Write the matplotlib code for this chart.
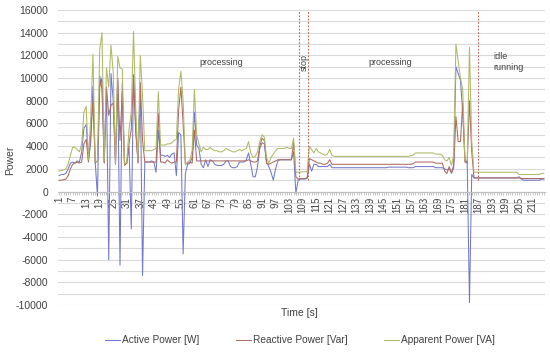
import matplotlib.pyplot as plt
from matplotlib.ticker import MultipleLocator

active_power = [
    1400, 1500, 1500, 1600, 2000, 2500, 2600, 2500, 2700, 2600,
    3500, 5600, 5900, 2700, 4300, 9300, 2600, -400, 10200, 9000,
    2600, 9000, -6000, 10400, 8000, 2500, 9800, -6500, 9600, 2400,
    2500, 4000, -3300, 10000, 5200, 2600, 9500, -7400, 2600, 2600,
    2600, 2700, 2600, 1700, 5400, 3200, 3200, 3100, 3200, 3000,
    3300, 3400, 1400, 5200, 5000, -5500, 1600, 2400, 2500, 3000,
    7000, 4100, 3800, 2400, 2100, 2800, 2200, 2800, 2700, 2400,
    2300, 2300, 2300, 2400, 2700, 2700, 2200, 2100, 2100, 2200,
    2600, 2600, 2600, 2800, 3400, 2400, 1300, 1300, 2200, 3800,
    4300, 4200, 2600, 2200, 1700, 1000, 2000, 2700, 2800, 2800,
    2800, 2800, 2800, 2800, 3500, -150, 1000, 1100, 1100, 1100,
    1150, 2400, 1800, 2400, 2400, 2200, 2200, 2200, 2200, 2200,
    2400, 2100, 2100, 2100, 2100, 2100, 2100, 2100, 2100, 2100,
    2100, 2100, 2100, 2100, 2100, 2100, 2100, 2100, 2100, 2100,
    2100, 2100, 2100, 2100, 2100, 2100, 2150, 2150, 2150, 2150,
    2150, 2150, 2150, 2150, 2150, 2100, 2100, 2100, 2200, 2200,
    2200, 2200, 2200, 2200, 2200, 2200, 2200, 2100, 2100, 2100,
    2100, 2000, 1900, 2000, 1700, 2300, 11000, 10400, 9800, 7000,
    2700, 2600, -9800, 1500, 1200, 1200, 1200, 1200, 1200, 1200,
    1200, 1200, 1200, 1200, 1200, 1200, 1200, 1200, 1200, 1200,
    1200, 1200, 1200, 1200, 1300, 1100, 1000, 1000, 1000, 1000,
    1000, 1000, 1000, 1000, 1100, 1100,
]
reactive_power = [
    1000, 1000, 1050, 1100, 1400, 2000, 2400, 2500, 2600, 2500,
    2600, 4200, 4600, 2600, 5000, 8000, 2500, 2700, 9200, 10000,
    2500, 9200, 6700, 7600, 7800, 2400, 10000, 4500, 8800, 2300,
    2500, 4200, 5500, 10300, 5400, 2500, 9600, 4500, 2600, 2600,
    2600, 2600, 2600, 2600, 6900, 2600, 2600, 2500, 2800, 2600,
    2500, 2600, 2600, 7200, 9200, 6000, 2400, 2500, 2600, 2500,
    5400, 2700, 2700, 2700, 2700, 2700, 2700, 2700, 2700, 2700,
    2700, 2700, 2700, 2700, 2700, 2700, 2700, 2700, 2700, 2700,
    2700, 2700, 2700, 2700, 2800, 2700, 2600, 2600, 2700, 4000,
    4700, 4500, 2500, 2400, 2500, 2600, 2700, 2800, 2800, 2800,
    2800, 2800, 2800, 2800, 4300, 1300, 1100, 1150, 1150, 1150,
    1200, 2900, 2800, 2700, 2600, 2500, 2500, 2400, 2400, 2500,
    2800, 2400, 2400, 2400, 2400, 2400, 2400, 2400, 2400, 2400,
    2400, 2400, 2400, 2400, 2400, 2400, 2400, 2400, 2400, 2400,
    2400, 2400, 2400, 2400, 2400, 2400, 2400, 2400, 2400, 2400,
    2400, 2400, 2400, 2400, 2400, 2400, 2400, 2450, 2600, 2600,
    2600, 2600, 2600, 2600, 2600, 2600, 2600, 2500, 2500, 2500,
    2500, 1800, 1600, 2200, 1600, 2100, 6600, 4400, 4400, 7800,
    2600, 2500, 8000, 3500, 1200, 1200, 1200, 1200, 1200, 1200,
    1200, 1200, 1200, 1200, 1200, 1200, 1200, 1200, 1200, 1200,
    1200, 1200, 1200, 1200, 1200, 1150, 1150, 1150, 1150, 1150,
    1150, 1150, 1150, 1150, 1150, 1150,
]
apparent_power = [
    1800, 1850, 1900, 2000, 2400, 3200, 3900, 3900, 3700, 3500,
    4200, 7000, 7500, 2800, 6500, 12100, 2600, 2700, 12500, 14000,
    2700, 10900, 9200, 12900, 10500, 2500, 11900, 10900, 10800, 2400,
    2600, 5500, 7000, 14100, 7200, 2700, 12000, 8500, 3600, 3600,
    3600, 3600, 3700, 3800, 8800, 4100, 4100, 4100, 4200, 4200,
    4300, 4500, 4600, 9000, 10600, 8000, 2400, 2600, 2800, 3600,
    9000, 5000, 4200, 3500, 3900, 3700, 3700, 3900, 3700, 3600,
    3600, 3500, 3500, 3600, 3800, 3700, 3600, 3500, 3500, 3600,
    3700, 3600, 3700, 3800, 4400, 3400, 3000, 3100, 3500, 4400,
    5000, 4800, 3000, 2500, 3000, 3300, 3600, 3800, 3800, 3800,
    3800, 3900, 3800, 3800, 4700, 1700, 1700, 1700, 1750, 1750,
    1750, 4000, 3700, 3400, 3800, 3500, 3400, 3300, 3200, 3300,
    3700, 3200, 3100, 3100, 3100, 3100, 3100, 3100, 3100, 3100,
    3100, 3100, 3100, 3100, 3100, 3100, 3100, 3100, 3100, 3100,
    3100, 3100, 3100, 3100, 3100, 3100, 3100, 3100, 3100, 3100,
    3100, 3100, 3100, 3100, 3100, 3100, 3150, 3200, 3400, 3400,
    3400, 3400, 3400, 3400, 3400, 3400, 3400, 3300, 3300, 3300,
    3200, 2800, 2700, 3000, 2300, 3200, 13000, 11500, 10000, 9000,
    2800, 2700, 12700, 4500, 1700, 1700, 1700, 1700, 1700, 1700,
    1700, 1700, 1700, 1700, 1700, 1700, 1700, 1700, 1700, 1700,
    1700, 1700, 1700, 1700, 1500, 1500, 1500, 1500, 1500, 1500,
    1500, 1500, 1500, 1500, 1600, 1600,
]
time_s = list(range(1, len(active_power) + 1))
phase_bounds = [107.5, 111.3, 186.8]

plt.rcParams['font.family'] = ['Liberation Sans', 'DejaVu Sans']
plt.rcParams['axes.unicode_minus'] = False
txt = '#404040'

fig = plt.figure(figsize=(5.5, 3.55), dpi=100)
ax = fig.add_axes([58 / 550, 1 - 305 / 355, 487 / 550, 295 / 355])

ax.plot(time_s, active_power, color='#7478CC', lw=0.75, label='Active Power [W]')
ax.plot(time_s, reactive_power, color='#AC6A62', lw=0.75, label='Reactive Power [Var]')
ax.plot(time_s, apparent_power, color='#B0B866', lw=0.75, label='Apparent Power [VA]')

for xb in phase_bounds:
    ax.plot([xb, xb], [1000, 16000], color='#B8645A', lw=0.8, ls=(0, (1.5, 1.5)))

# axis crosses at zero like the original spreadsheet chart
for side in ['top', 'right', 'left']:
    ax.spines[side].set_visible(False)
ax.spines['bottom'].set_position(('data', 0))
ax.spines['bottom'].set_color('#BFBFBF')
ax.spines['bottom'].set_linewidth(0.8)

ax.set_xlim(0.5, len(time_s) + 0.5)
ax.set_ylim(-10000, 16000)
ax.set_yticks(range(-10000, 16001, 2000))
ax.yaxis.set_minor_locator(MultipleLocator(1000))
ax.grid(axis='y', which='both', color='#D9D9D9', lw=0.8)
ax.set_axisbelow(True)

ax.set_xticks(time_s)
ax.set_xticklabels([str(t) if (t - 1) % 6 == 0 else '' for t in time_s])
ax.tick_params(axis='x', length=2, width=0.6, color='#BFBFBF', labelsize=7,
               labelcolor=txt, pad=2, labelrotation=90)
ax.tick_params(axis='y', which='both', length=0, labelsize=7.5, labelcolor=txt, pad=7)

ax.text(73, 11400, 'processing', fontsize=6.5, color=txt, ha='center', va='center')
ax.text(109.5, 11400, 'stop', fontsize=6.5, color=txt, rotation=90, ha='center', va='center')
ax.text(148, 11400, 'processing', fontsize=6.5, color=txt, ha='center', va='center')
ax.text(193.5, 11400, 'idle\nrunning', fontsize=6.5, color=txt, ha='left', va='center',
        linespacing=1.3)

fig.text(0.545, 0.118, 'Time [s]', fontsize=7.5, color=txt, ha='center', va='center')
fig.text(0.019, 0.549, 'Power', fontsize=7.5, color=txt, rotation=90, ha='center', va='center')

fig.legend(loc='center', bbox_to_anchor=(0.545, 0.042), ncol=3, frameon=False, fontsize=7.3,
           handlelength=1.5, handletextpad=0.2, columnspacing=3.6, labelcolor=txt)

fig.savefig('out.png', dpi=100)
